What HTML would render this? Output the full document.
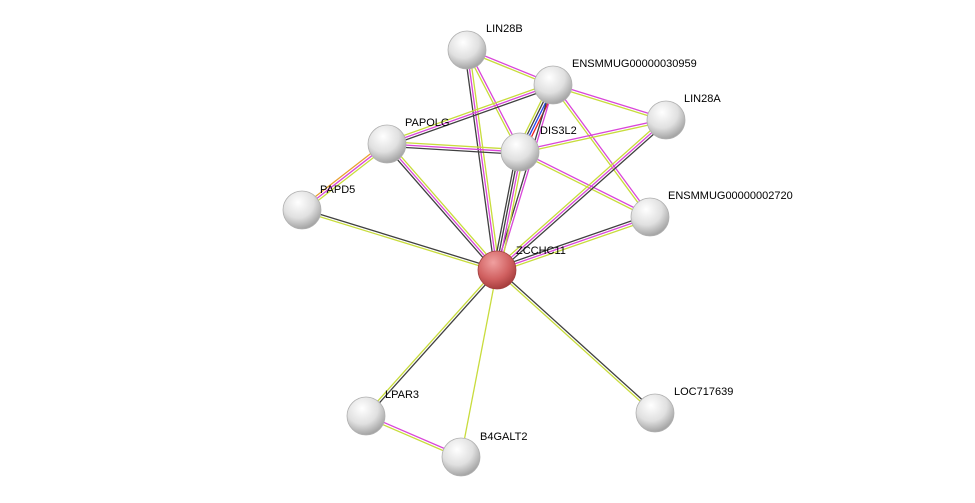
<!DOCTYPE html>
<html><head><meta charset="utf-8"><style>
html,body{margin:0;padding:0;background:#fff;width:975px;height:503px;overflow:hidden}
svg text{font-family:"Liberation Sans",sans-serif;font-size:11px;fill:#000}
</style></head><body>
<svg id="s" width="975" height="503" viewBox="0 0 975 503" xmlns="http://www.w3.org/2000/svg">
<defs>
<radialGradient id="g" cx="0.4" cy="0.3" r="0.75">
<stop offset="0" stop-color="#ffffff"/><stop offset="0.55" stop-color="#e0e0e0"/><stop offset="1" stop-color="#9a9a9a"/></radialGradient>
<radialGradient id="r" cx="0.4" cy="0.3" r="0.75">
<stop offset="0" stop-color="#f0a0a0"/><stop offset="0.6" stop-color="#d06060"/><stop offset="1" stop-color="#a03838"/></radialGradient>
</defs>
<g id="edges"></g><g id="nodes"></g>
</svg>
<script>
var N={LIN28B:[467,50],E30959:[553,85],LIN28A:[666,120],PAPOLG:[387,144],DIS3L2:[520,152],PAPD5:[302,210],E2720:[650,217],Z:[497,270],LPAR3:[366,416],B4G:[461,457],LOC:[655,413]};
var Y="#c8dc3c",M="#d946d9",D="#404040",R="#ee2222",B="#2244ee",O="#e8a030";
var E=[["LIN28B","Z",[Y,M,D]],["LIN28B","E30959",[M,Y]],["LIN28B","DIS3L2",[M,Y]],["E30959","PAPOLG",[D,M,Y]],["E30959","DIS3L2",[R,B,D,Y]],["E30959","LIN28A",[M,Y]],["E30959","E2720",[M,Y]],["E30959","Z",[M,D]],["PAPOLG","DIS3L2",[Y,M,D]],["PAPOLG","Z",[Y,M,D]],["PAPOLG","PAPD5",[Y,M,O]],["DIS3L2","LIN28A",[M,Y]],["DIS3L2","E2720",[M,Y]],["DIS3L2","Z",[Y,M,D,D]],["LIN28A","Z",[D,M,Y]],["E2720","Z",[Y,M,D]],["PAPD5","Z",[D,Y]],["Z","LPAR3",[D,Y]],["Z","B4G",[Y]],["Z","LOC",[D,Y]],["LPAR3","B4G",[M,Y]]];
var ns="http://www.w3.org/2000/svg",eg=document.getElementById("edges"),ng=document.getElementById("nodes");
E.forEach(function(e){var a=N[e[0]],b=N[e[1]],dx=b[0]-a[0],dy=b[1]-a[1],l=Math.hypot(dx,dy),px=-dy/l,py=dx/l,n=e[2].length;
e[2].forEach(function(c,i){var o=(i-(n-1)/2)*2.4;var L=document.createElementNS(ns,"line");
L.setAttribute("x1",a[0]+px*o);L.setAttribute("y1",a[1]+py*o);L.setAttribute("x2",b[0]+px*o);L.setAttribute("y2",b[1]+py*o);
L.setAttribute("stroke",c);L.setAttribute("stroke-width","1.3");eg.appendChild(L);});});
var lab={LIN28B:["LIN28B",486,32],E30959:["ENSMMUG00000030959",572,67],LIN28A:["LIN28A",684,102],PAPOLG:["PAPOLG",405,126],DIS3L2:["DIS3L2",540,134],PAPD5:["PAPD5",320,193],E2720:["ENSMMUG00000002720",668,199],Z:["ZCCHC11",516,254],LPAR3:["LPAR3",385,398],B4G:["B4GALT2",480,440],LOC:["LOC717639",674,395]};
for(var k in N){var c=document.createElementNS(ns,"circle");c.setAttribute("cx",N[k][0]);c.setAttribute("cy",N[k][1]);c.setAttribute("r",19);
c.setAttribute("fill",k=="Z"?"url(#r)":"url(#g)");c.setAttribute("stroke",k=="Z"?"#a04040":"#b0b0b0");c.setAttribute("stroke-width","0.8");ng.appendChild(c);
var t=document.createElementNS(ns,"text");t.setAttribute("x",lab[k][1]);t.setAttribute("y",lab[k][2]);t.textContent=lab[k][0];ng.appendChild(t);}
</script>
</body></html>
